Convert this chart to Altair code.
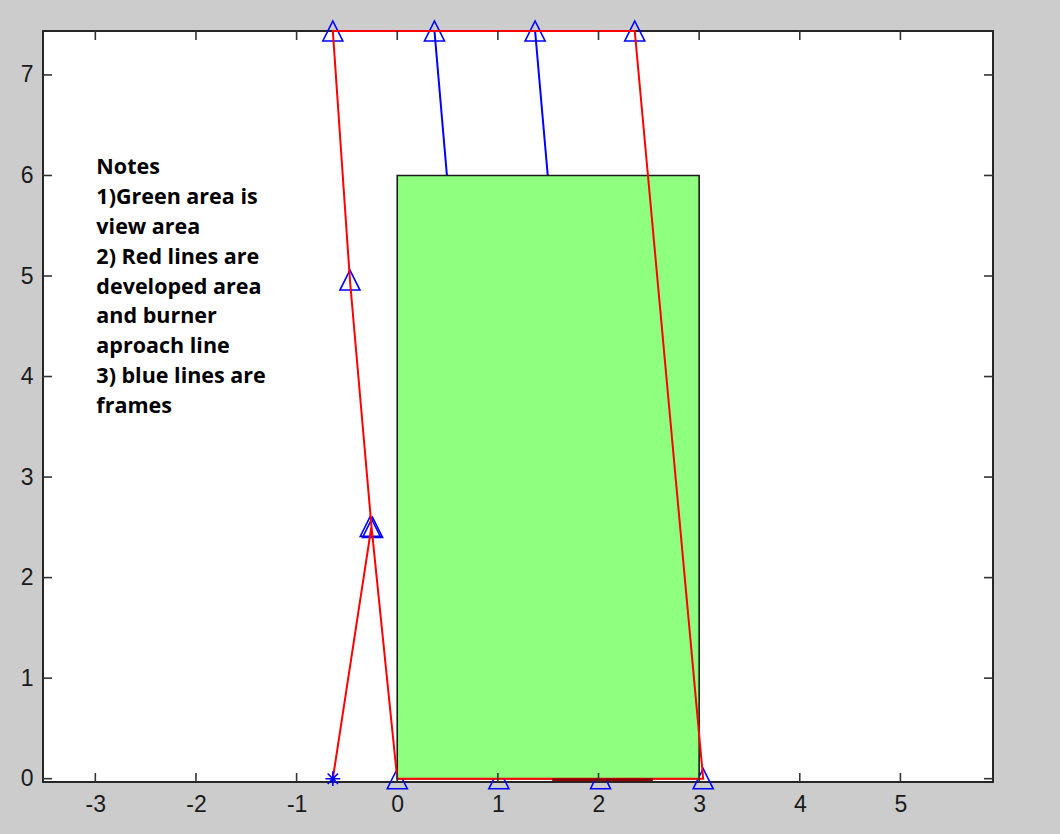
import altair as alt
import pandas as pd

# Axis ticks and ranges
x_ticks = [-3, -2, -1, 0, 1, 2, 3, 4, 5]
y_ticks = [0, 1, 2, 3, 4, 5, 6, 7]
x_domain = [-3.52, 5.92]
y_domain = [-0.033, 7.437]

# Frame end points (top row and bottom row)
frame_top_x = [-0.64, 0.37, 1.37, 2.36]
frame_bottom_x = [0.0, 1.01, 2.02, 3.04]
frame_top_y = 7.437
frame_bottom_y = 0.0

# Intermediate frame points on the approach line
side_tri_x = [-0.47, -0.268, -0.245]
side_tri_y = [4.96, 2.51, 2.50]

# Developed area / burner approach line (red polyline, in drawing order)
red_x = [-0.64, -0.256, 0.0, 3.04, 2.36, -0.64, -0.47, -0.256]
red_y = [0.0, 2.51, 0.0, 0.0, 7.437, 7.437, 4.96, 2.51]

# Burner start point
star_x = [-0.64]
star_y = [0.0]

# View area rectangle
view_x = [0.0, 3.0]
view_y = [0.0, 6.0]

# Burner segment on the floor
burner_x = [1.54, 2.54]
burner_y = -0.01

notes_lines = [
    "Notes",
    "1)Green area is",
    "view area",
    "2) Red lines are",
    "developed area",
    "and burner",
    "aproach line",
    "3) blue lines are",
    "frames",
]
notes_x = -2.99
notes_top_y = 6.18

W, H = 950, 751
TICK = 9

xs = alt.Scale(domain=x_domain, nice=False, zero=False)
ys = alt.Scale(domain=y_domain, nice=False, zero=False)

x_axis = alt.Axis(
    values=x_ticks, title=None, grid=False, ticks=False, domain=False,
    labelFont="Liberation Sans", labelFontSize=23, labelColor="#1a1a1a",
    labelPadding=11,
    labelExpr="datum.value < 0 ? '-' + abs(datum.value) : '' + datum.value",
)
y_axis = alt.Axis(
    values=y_ticks, title=None, grid=False, ticks=False, domain=False,
    labelFont="Liberation Sans", labelFontSize=23, labelColor="#1a1a1a",
    labelPadding=10,
)


def X(field):
    return alt.X(field, type="quantitative", scale=xs, axis=x_axis)


def Y(field):
    return alt.Y(field, type="quantitative", scale=ys, axis=y_axis)


# Blue frame lines (middle frames, partly hidden by the view area)
frames_df = pd.DataFrame({
    "x": frame_top_x[1:3],
    "y": [frame_top_y] * 2,
    "x2": frame_bottom_x[1:3],
    "y2": [frame_bottom_y] * 2,
})
frames = alt.Chart(frames_df).mark_rule(color="#0000ff", strokeWidth=2).encode(
    x=X("x"), y=Y("y"), x2="x2:Q", y2="y2:Q",
)

# Triangle markers at frame points
tri_df = pd.DataFrame({
    "x": frame_top_x + frame_bottom_x + side_tri_x,
    "y": [frame_top_y] * 4 + [frame_bottom_y] * 4 + side_tri_y,
})
triangles = alt.Chart(tri_df).mark_point(
    shape="M0,-1L1,1L-1,1Z", size=400, filled=False,
    stroke="#0000ff", strokeWidth=1.6, opacity=1,
).encode(x=X("x"), y=Y("y"))

# Green view area
view_df = pd.DataFrame({"x": [view_x[0]], "x2": [view_x[1]], "y": [view_y[0]], "y2": [view_y[1]]})
view = alt.Chart(view_df).mark_rect(
    fill="#8fff7f", stroke="#1a1a1a", strokeWidth=1.6
).encode(x=X("x"), x2="x2:Q", y=Y("y"), y2="y2:Q")

# Red developed-area polyline
red_df = pd.DataFrame({"x": red_x, "y": red_y, "o": list(range(len(red_x)))})
red = alt.Chart(red_df).mark_line(color="#ff0000", strokeWidth=2).encode(
    x=X("x"), y=Y("y"), order="o:Q",
)

# Burner segment
burner_df = pd.DataFrame({"x": [burner_x[0]], "x2": [burner_x[1]], "y": [burner_y]})
burner = alt.Chart(burner_df).mark_rule(color="#8b0000", strokeWidth=3).encode(
    x=X("x"), x2="x2:Q", y=Y("y"),
)

# Burner start marker
star_df = pd.DataFrame({"x": star_x, "y": star_y})
star = alt.Chart(star_df).mark_point(
    shape="M-1,0L1,0M0,-1L0,1M-0.7,-0.7L0.7,0.7M-0.7,0.7L0.7,-0.7",
    size=220, filled=False, stroke="#0000ff", strokeWidth=1.6, opacity=1,
).encode(x=X("x"), y=Y("y"))

# Notes text block
notes_df = pd.DataFrame({"x": [notes_x], "y": [notes_top_y], "t": ["\n".join(notes_lines)]})
notes = alt.Chart(notes_df).mark_text(
    align="left", baseline="top", font="Open Sans", fontWeight="bold",
    fontSize=21.5, lineHeight=29.8, lineBreak="\n", color="#000000",
).encode(x=X("x"), y=Y("y"), text="t:N")

# Inward tick marks on all four sides
xt_df = pd.DataFrame({"x": x_ticks})
yt_df = pd.DataFrame({"y": y_ticks})
tick_style = dict(color="#333333", strokeWidth=1.6)
ticks_bottom = alt.Chart(xt_df).mark_rule(**tick_style).encode(
    x=X("x"), y=alt.value(H), y2=alt.value(H - TICK))
ticks_top = alt.Chart(xt_df).mark_rule(**tick_style).encode(
    x=X("x"), y=alt.value(0), y2=alt.value(TICK))
ticks_left = alt.Chart(yt_df).mark_rule(**tick_style).encode(
    y=Y("y"), x=alt.value(0), x2=alt.value(TICK))
ticks_right = alt.Chart(yt_df).mark_rule(**tick_style).encode(
    y=Y("y"), x=alt.value(W), x2=alt.value(W - TICK))

chart = alt.layer(
    frames, triangles, view, red, burner, star, notes,
    ticks_bottom, ticks_top, ticks_left, ticks_right,
).properties(
    width=W,
    height=H,
    background="#cccccc",
    padding={"left": 43, "top": 31, "right": 67, "bottom": 52},
    autosize=alt.AutoSizeParams(type="none"),
).configure_view(
    fill="white", stroke="#262626", strokeWidth=2,
)

chart.save("out.html", embed_options={"renderer": "svg", "actions": False})
